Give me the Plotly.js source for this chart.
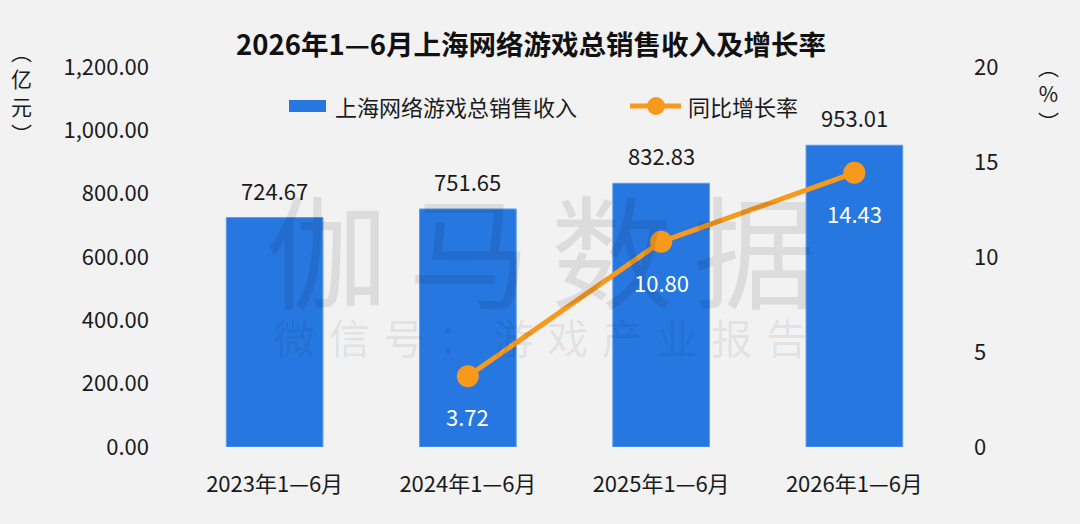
<!DOCTYPE html>
<html>
<head>
<meta charset="utf-8">
<script src="https://cdn.plot.ly/plotly-3.0.1.min.js"></script>
<style>
  html, body { margin: 0; padding: 0; background: #f2f2f2; }
  #plot { width: 1080px; height: 524px; }
</style>
</head>
<body>
<div id="plot"></div>
<script>
// chart values
var periods  = ['2023年1—6月', '2024年1—6月', '2025年1—6月', '2026年1—6月'];
var revenue  = [724.67, 751.65, 832.83, 953.01];
var growth   = [null, 3.72, 10.80, 14.43];
var revLabels    = ['724.67', '751.65', '832.83', '953.01'];
var growthLabels = [null, '3.72', '10.80', '14.43'];

var barName  = '上海网络游戏总销售收入';
var lineName = '同比增长率';

var BLUE = '#2777e1';
var ORANGE = '#f7991c';
var FONT = '"Noto Sans CJK SC", "Noto Sans", sans-serif';

// plot area in pixels, used only to place the hand drawn legend and notes
var L = 178, R = 951, T = 67, B = 447;
function px(x) { return (x - L) / (R - L); }
function py(y) { return (B - y) / (B - T); }

var data = [
  {
    type: 'bar',
    x: periods,
    y: revenue,
    name: barName,
    marker: { color: BLUE, line: { color: '#5f9bea', width: 1 } },
    hoverinfo: 'none'
  },
  {
    type: 'scatter',
    mode: 'lines+markers',
    x: periods,
    y: growth,
    yaxis: 'y2',
    name: lineName,
    line: { color: ORANGE, width: 5 },
    marker: { color: ORANGE, size: 22 },
    hoverinfo: 'none'
  }
];

var annotations = [];

// paper-placed text, always anchored on its middle
function note(x, y, text, size, color, xanchor) {
  annotations.push({
    xref: 'paper', yref: 'paper', x: px(x), y: py(y),
    xanchor: xanchor || 'center', yanchor: 'middle',
    text: text, showarrow: false,
    font: { family: FONT, size: size, color: color }
  });
}

// watermark
note(540, 245, '伽\u2006马\u2006数\u2006据', 122, 'rgba(0,0,0,0.09)');
note(540, 336, '微\u2004信\u2004号\u2004：\u2004游\u2004戏\u2004产\u2004业\u2004报\u2004告', 41, 'rgba(0,0,0,0.08)');

// value labels above bars
for (var i = 0; i < periods.length; i++) {
  annotations.push({
    x: periods[i], y: revenue[i], xref: 'x', yref: 'y',
    text: revLabels[i], showarrow: false,
    xanchor: 'center', yanchor: 'bottom', yshift: 10,
    font: { family: FONT, size: 22, color: '#1a1a1a' }
  });
}
// growth labels under points
for (var j = 0; j < periods.length; j++) {
  if (growth[j] === null) continue;
  annotations.push({
    x: periods[j], y: growth[j], xref: 'x', yref: 'y2',
    text: growthLabels[j], showarrow: false,
    xanchor: 'center', yanchor: 'middle', yshift: -40,
    font: { family: FONT, size: 22, color: '#ffffff' }
  });
}

// vertical axis units
note(21, 92, '︵<br>亿<br>元<br>︶', 21, '#1a1a1a');
note(1048, 93, '︵<br>%<br>︶', 21, '#1a1a1a');

// legend text
note(333, 106, barName, 22, '#1a1a1a', 'left');
note(686, 106, lineName, 22, '#1a1a1a', 'left');

var shapes = [
  { type: 'rect', xref: 'paper', yref: 'paper',
    x0: px(289), x1: px(326), y0: py(112), y1: py(100),
    fillcolor: BLUE, line: { width: 0 } },
  { type: 'line', xref: 'paper', yref: 'paper',
    x0: px(630), x1: px(681), y0: py(106), y1: py(106),
    line: { color: ORANGE, width: 5 } },
  { type: 'circle', xref: 'paper', yref: 'paper',
    x0: px(647), x1: px(665), y0: py(115), y1: py(97),
    fillcolor: ORANGE, line: { width: 0 } }
];

var layout = {
  width: 1080,
  height: 524,
  paper_bgcolor: '#f2f2f2',
  plot_bgcolor: '#f2f2f2',
  margin: { l: L, r: 1080 - R, t: T, b: 524 - B, pad: 0 },
  showlegend: false,
  bargap: 0.5,
  hovermode: false,
  font: { family: FONT, color: '#1a1a1a' },
  title: {
    text: '2026年1—6月上海网络游戏总销售收入及增长率',
    x: 531 / 1080, xanchor: 'center', xref: 'container',
    y: 1 - 45 / 524, yanchor: 'middle', yref: 'container',
    font: { family: FONT, size: 27.5, weight: 'bold', color: '#111111' }
  },
  xaxis: {
    type: 'category',
    showgrid: false, zeroline: false, showline: false, ticks: '',
    tickfont: { family: FONT, size: 22, color: '#1a1a1a' },
    ticklabelstandoff: 22
  },
  yaxis: {
    range: [0, 1200], dtick: 200, tickformat: ',.2f',
    showgrid: false, zeroline: false, showline: false, ticks: '',
    tickfont: { family: FONT, size: 22, color: '#1a1a1a' },
    ticklabelstandoff: 28
  },
  yaxis2: {
    range: [0, 20], dtick: 5, overlaying: 'y', side: 'right',
    showgrid: false, zeroline: false, showline: false, ticks: '',
    tickfont: { family: FONT, size: 22, color: '#1a1a1a' },
    ticklabelstandoff: 22
  },
  annotations: annotations,
  shapes: shapes
};

Plotly.newPlot('plot', data, layout, { displayModeBar: false, staticPlot: true });
</script>
</body>
</html>
